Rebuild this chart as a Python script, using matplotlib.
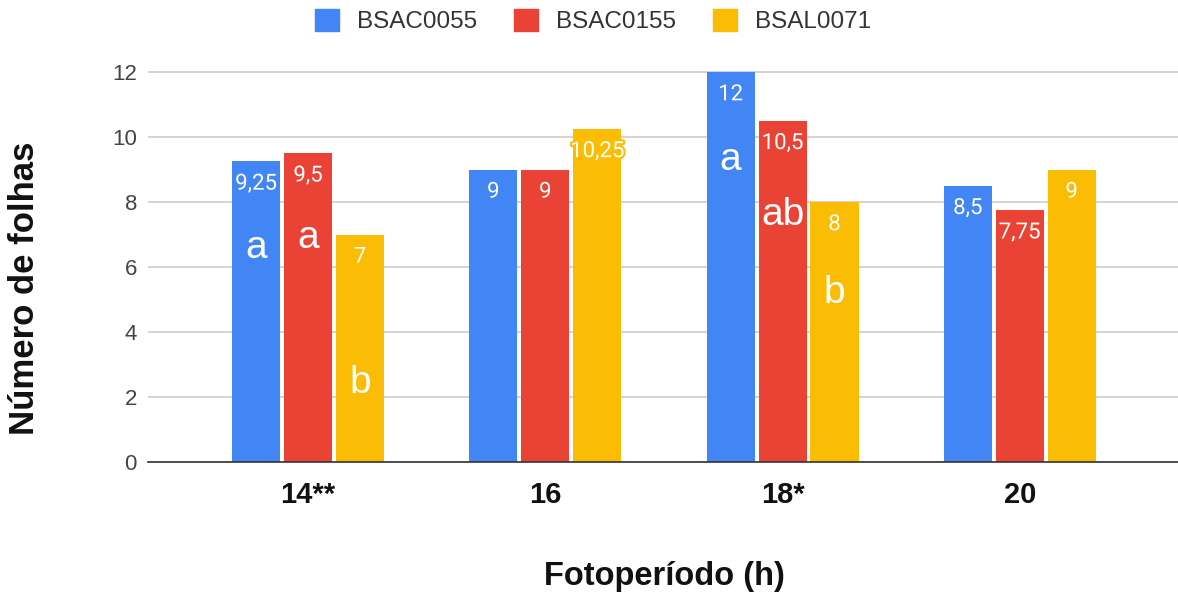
import matplotlib
matplotlib.use("Agg")
import matplotlib.pyplot as plt
import matplotlib.patheffects as pe
from matplotlib.patches import Patch
import numpy as np

plt.rcParams['font.family'] = ['Liberation Sans', 'DejaVu Sans']

categories = ["14**", "16", "18*", "20"]
series = ["BSAC0055", "BSAC0155", "BSAL0071"]
values = {
    "BSAC0055": [9.25, 9, 12, 8.5],
    "BSAC0155": [9.5, 9, 10.5, 7.75],
    "BSAL0071": [7, 10.25, 8, 9],
}
value_labels = {
    "BSAC0055": ["9,25", "9", "12", "8,5"],
    "BSAC0155": ["9,5", "9", "10,5", "7,75"],
    "BSAL0071": ["7", "10,25", "8", "9"],
}
# significance letters: (category index, series, text, baseline y)
letters = [
    (0, "BSAC0055", "a", 6.28),
    (0, "BSAC0155", "a", 6.58),
    (0, "BSAL0071", "b", 2.12),
    (2, "BSAC0055", "a", 8.98),
    (2, "BSAC0155", "ab", 7.29),
    (2, "BSAL0071", "b", 4.89),
]
colors = ["#4285F4", "#EA4335", "#FBBC04"]
yticks = [0, 2, 4, 6, 8, 10, 12]

W, H = 1178, 596
fig = plt.figure(figsize=(W / 100, H / 100), dpi=100)
ax = fig.add_axes([148 / W, 1 - 462 / H, 1 - 148 / W, (462 - 39.5) / H])

x = np.arange(len(categories))
width = 0.2025
step = 0.219
offsets = {s: (i - 1) * step for i, s in enumerate(series)}

for i, s in enumerate(series):
    ax.bar(x + offsets[s], values[s], width, color=colors[i], zorder=3)
    for xi, v, lab in zip(x, values[s], value_labels[s]):
        ax.text(xi + offsets[s], v - 0.87, lab, ha="center", va="baseline",
                color="white", fontsize=16, family=["Roboto", "DejaVu Sans"], zorder=5,
                path_effects=[pe.withStroke(linewidth=3, foreground=colors[i])])

for ci, s, t, yv in letters:
    ax.text(ci + offsets[s], yv, t, ha="center", va="baseline", color="white",
            fontsize=28, zorder=5)

ax.set_xlim(-0.675, 3.667)
ax.set_ylim(0, 13)
ax.set_yticks(yticks)
ax.set_yticklabels([str(t) for t in yticks], fontsize=16, color="#444444")
ax.set_xticks(x)
ax.set_xticklabels(categories, fontsize=21, fontweight="bold", color="#111111")
ax.tick_params(axis="both", length=0)
ax.tick_params(axis="y", pad=8)
ax.tick_params(axis="x", pad=13.5)
ax.grid(axis="y", color="#cccccc", linewidth=1.2, zorder=0)
for sp in ["top", "right", "left"]:
    ax.spines[sp].set_visible(False)
ax.spines["bottom"].set_color("#333333")
ax.spines["bottom"].set_linewidth(1.2)
ax.spines["bottom"].set_zorder(4)

fig.text(25 / W, 1 - 288 / H, "Número de folhas", rotation=90, ha="center", va="center",
         fontsize=25, fontweight="bold", color="#111111")
fig.text(664 / W, 1 - 576 / H, "Fotoperíodo (h)", ha="center", va="center",
         fontsize=23.5, fontweight="bold", color="#111111")

handles = [Patch(facecolor=c, edgecolor=c) for c in colors]
fig.legend(handles, series, loc="center", bbox_to_anchor=(593 / W, 1 - 21 / H), ncol=3,
           frameon=False, fontsize=17.5, handlelength=1.0, handleheight=1.0,
           columnspacing=1.5, handletextpad=0.75, labelcolor="#333333",
           borderpad=0, borderaxespad=0)

fig.savefig("out.png", dpi=100)
